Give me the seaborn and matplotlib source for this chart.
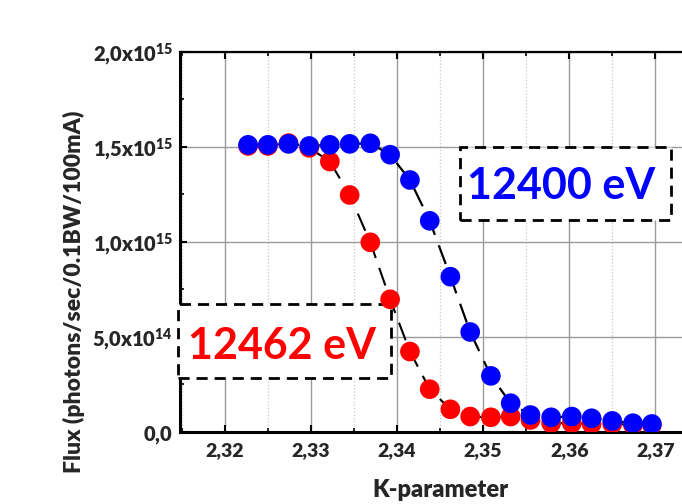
import matplotlib
matplotlib.use('Agg')
import matplotlib.pyplot as plt
import seaborn as sns
from matplotlib.patches import Rectangle
from matplotlib.ticker import MultipleLocator

# K-parameter scan (same K grid for both photon energies)
k_param = [2.3227, 2.3250, 2.3274, 2.3298, 2.3322, 2.3345, 2.3369, 2.3392,
           2.3415, 2.3438, 2.3462, 2.3485, 2.3509, 2.3532, 2.3555, 2.3579,
           2.3603, 2.3626, 2.3650, 2.3674, 2.3696]

# flux in units of 1e15 photons/sec/0.1BW/100mA
flux_12400 = [1.511, 1.511, 1.516, 1.505, 1.511, 1.516, 1.519, 1.459,
              1.326, 1.111, 0.817, 0.526, 0.295, 0.151, 0.089, 0.077,
              0.081, 0.072, 0.058, 0.046, 0.042]
flux_12462 = [1.505, 1.505, 1.520, 1.495, 1.423, 1.247, 0.998, 0.698,
              0.423, 0.225, 0.119, 0.081, 0.077, 0.081, 0.063, 0.046,
              0.046, 0.042, 0.042, 0.037, 0.037]

x_ticks = [2.32, 2.33, 2.34, 2.35, 2.36, 2.37]
x_tick_labels = ['2,32', '2,33', '2,34', '2,35', '2,36', '2,37']
y_ticks = [0.0, 0.5, 1.0, 1.5, 2.0]
y_tick_labels = [r'$\mathbf{0{,}0}$', r'$\mathbf{5{,}0x10^{14}}$',
                 r'$\mathbf{1{,}0x10^{15}}$', r'$\mathbf{1{,}5x10^{15}}$',
                 r'$\mathbf{2{,}0x10^{15}}$']

sns.set_style('white')
plt.rcParams['font.family'] = ['Lato', 'DejaVu Sans']
plt.rcParams['font.weight'] = 'bold'
plt.rcParams['mathtext.fontset'] = 'custom'
plt.rcParams['mathtext.bf'] = 'Lato:heavy'
plt.rcParams['mathtext.rm'] = 'Lato:heavy'

fig = plt.figure(figsize=(6.82, 5.04), dpi=100)
ax = fig.add_axes([0.264, 0.143, 0.736, 0.754])

# dashed guide lines through the points
sns.lineplot(x=k_param, y=flux_12462, color='black', lw=1.5,
             linestyle=(0, (9, 5)), ax=ax, zorder=3)
sns.lineplot(x=k_param, y=flux_12400, color='black', lw=1.6,
             linestyle=(0, (9, 5)), ax=ax, zorder=3)

sns.scatterplot(x=k_param, y=flux_12462, color='#ff0000', s=200,
                edgecolor='none', ax=ax, zorder=5)
sns.scatterplot(x=k_param, y=flux_12400, color='#0000ff', s=200,
                edgecolor='none', ax=ax, zorder=6)

ax.set_xlim(2.3148, 2.3731)
ax.set_ylim(0, 2.0)
ax.set_xticks(x_ticks)
ax.set_xticklabels(x_tick_labels, fontsize=14, fontweight='heavy')
ax.set_yticks(y_ticks)
ax.set_yticklabels(y_tick_labels, fontsize=14.5)
ax.xaxis.set_minor_locator(MultipleLocator(0.005))
ax.yaxis.set_minor_locator(MultipleLocator(0.25))

ax.grid(which='major', axis='both', color='#9a9a9a', lw=1.0)
ax.grid(which='minor', axis='x', color='#c8c8c8', lw=0.9, linestyle=':')
ax.set_axisbelow(True)

ax.tick_params(which='both', direction='in', top=True, bottom=True,
               left=True, right=False, color='black')
ax.tick_params(which='major', length=5, width=1.5)
ax.tick_params(which='minor', length=3, width=1.2)
ax.tick_params(axis='x', which='major', pad=7)
ax.tick_params(axis='y', which='major', pad=5)

for side in ['left', 'bottom']:
    ax.spines[side].set_linewidth(2.2)
ax.spines['top'].set_linewidth(1.6)
ax.spines['right'].set_visible(False)
for s in ax.spines.values():
    s.set_color('black')

# annotation boxes
ax.add_patch(Rectangle((0.558, 0.558), 0.420, 0.192, transform=ax.transAxes,
                       facecolor='white', edgecolor='black', lw=2,
                       linestyle=(0, (4, 2.5)), zorder=4, clip_on=False))
ax.text(0.760, 0.647, '12400 eV', transform=ax.transAxes, color='#0000ff',
        fontsize=31, fontweight='bold', ha='center', va='center', zorder=4.5)

ax.add_patch(Rectangle((-0.004, 0.142), 0.424, 0.195, transform=ax.transAxes,
                       facecolor='white', edgecolor='black', lw=2,
                       linestyle=(0, (4, 2.5)), zorder=4, clip_on=False))
ax.text(0.203, 0.226, '12462 eV', transform=ax.transAxes, color='#ff0000',
        fontsize=31, fontweight='bold', ha='center', va='center', zorder=4.5)

ax.set_xlabel('')
ax.set_ylabel('')
fig.text(74 / 682, 0.4216, 'Flux (photons/sec/0.1BW/100mA)', rotation=90,
         ha='center', va='center', fontsize=16.5, fontweight='heavy')
fig.text(0.646, 0.028, 'K-parameter', ha='center', va='center',
         fontsize=17, fontweight='heavy')

fig.savefig('out.png', dpi=100)
